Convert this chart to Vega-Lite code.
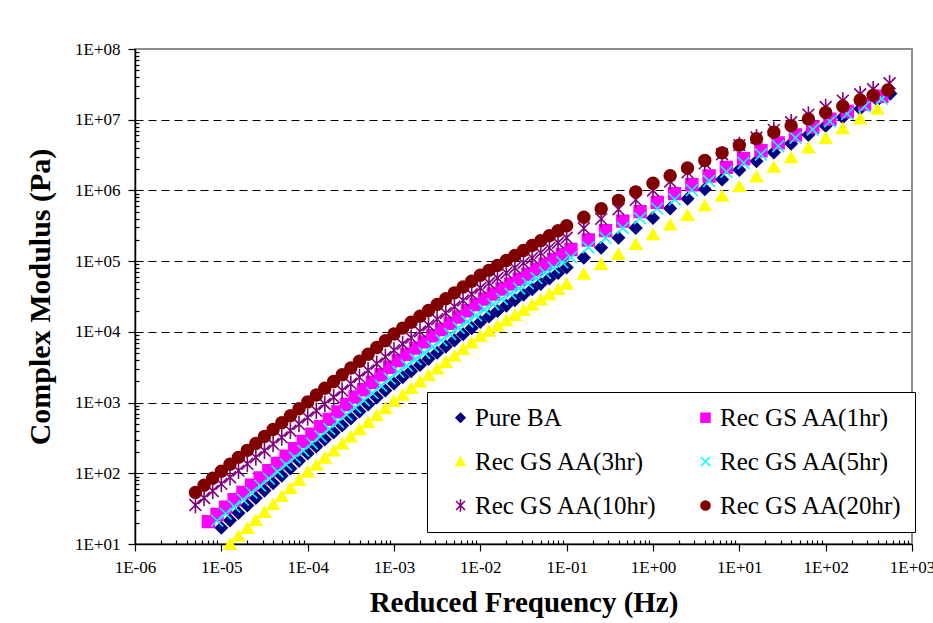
{
  "$schema": "https://vega.github.io/schema/vega-lite/v6.json",
  "width": 777,
  "height": 495,
  "autosize": "none",
  "padding": {"left": 135, "top": 49, "right": 21, "bottom": 79},
  "background": "white",
  "config": {
    "view": {"stroke": "#8c8c8c", "strokeWidth": 2},
    "font": "Liberation Serif"
  },
  "data": {
    "values": [
      {"series": "Pure BA", "freq": 1e-5, "modulus": 17.0},
      {"series": "Pure BA", "freq": 1.26e-5, "modulus": 21.6},
      {"series": "Pure BA", "freq": 1.58e-5, "modulus": 27.5},
      {"series": "Pure BA", "freq": 2e-5, "modulus": 35.1},
      {"series": "Pure BA", "freq": 2.51e-5, "modulus": 44.7},
      {"series": "Pure BA", "freq": 3.16e-5, "modulus": 56.9},
      {"series": "Pure BA", "freq": 3.98e-5, "modulus": 72.4},
      {"series": "Pure BA", "freq": 5.01e-5, "modulus": 92.3},
      {"series": "Pure BA", "freq": 6.31e-5, "modulus": 117},
      {"series": "Pure BA", "freq": 7.94e-5, "modulus": 150},
      {"series": "Pure BA", "freq": 1e-4, "modulus": 191},
      {"series": "Pure BA", "freq": 1.26e-4, "modulus": 240},
      {"series": "Pure BA", "freq": 1.58e-4, "modulus": 301},
      {"series": "Pure BA", "freq": 2e-4, "modulus": 378},
      {"series": "Pure BA", "freq": 2.51e-4, "modulus": 474},
      {"series": "Pure BA", "freq": 3.16e-4, "modulus": 596},
      {"series": "Pure BA", "freq": 3.98e-4, "modulus": 748},
      {"series": "Pure BA", "freq": 5.01e-4, "modulus": 940},
      {"series": "Pure BA", "freq": 6.31e-4, "modulus": 1180},
      {"series": "Pure BA", "freq": 7.94e-4, "modulus": 1480},
      {"series": "Pure BA", "freq": 1e-3, "modulus": 1860},
      {"series": "Pure BA", "freq": 1.26e-3, "modulus": 2280},
      {"series": "Pure BA", "freq": 1.58e-3, "modulus": 2780},
      {"series": "Pure BA", "freq": 2e-3, "modulus": 3400},
      {"series": "Pure BA", "freq": 2.51e-3, "modulus": 4150},
      {"series": "Pure BA", "freq": 3.16e-3, "modulus": 5070},
      {"series": "Pure BA", "freq": 3.98e-3, "modulus": 6190},
      {"series": "Pure BA", "freq": 5.01e-3, "modulus": 7570},
      {"series": "Pure BA", "freq": 6.31e-3, "modulus": 9250},
      {"series": "Pure BA", "freq": 7.94e-3, "modulus": 11300},
      {"series": "Pure BA", "freq": 0.01, "modulus": 13800},
      {"series": "Pure BA", "freq": 0.0126, "modulus": 16500},
      {"series": "Pure BA", "freq": 0.0158, "modulus": 19700},
      {"series": "Pure BA", "freq": 0.02, "modulus": 23500},
      {"series": "Pure BA", "freq": 0.0251, "modulus": 28100},
      {"series": "Pure BA", "freq": 0.0316, "modulus": 33500},
      {"series": "Pure BA", "freq": 0.0398, "modulus": 40000},
      {"series": "Pure BA", "freq": 0.0501, "modulus": 47700},
      {"series": "Pure BA", "freq": 0.0631, "modulus": 57000},
      {"series": "Pure BA", "freq": 0.0794, "modulus": 68100},
      {"series": "Pure BA", "freq": 0.1, "modulus": 81300},
      {"series": "Pure BA", "freq": 0.158, "modulus": 112000},
      {"series": "Pure BA", "freq": 0.251, "modulus": 155000},
      {"series": "Pure BA", "freq": 0.398, "modulus": 214000},
      {"series": "Pure BA", "freq": 0.631, "modulus": 295000},
      {"series": "Pure BA", "freq": 1, "modulus": 407000},
      {"series": "Pure BA", "freq": 1.58, "modulus": 557000},
      {"series": "Pure BA", "freq": 2.51, "modulus": 762000},
      {"series": "Pure BA", "freq": 3.98, "modulus": 1040000},
      {"series": "Pure BA", "freq": 6.31, "modulus": 1430000},
      {"series": "Pure BA", "freq": 10, "modulus": 1950000},
      {"series": "Pure BA", "freq": 15.8, "modulus": 2590000},
      {"series": "Pure BA", "freq": 25.1, "modulus": 3450000},
      {"series": "Pure BA", "freq": 39.8, "modulus": 4590000},
      {"series": "Pure BA", "freq": 63.1, "modulus": 6110000},
      {"series": "Pure BA", "freq": 100, "modulus": 8130000},
      {"series": "Pure BA", "freq": 158, "modulus": 10800000},
      {"series": "Pure BA", "freq": 251, "modulus": 14300000},
      {"series": "Pure BA", "freq": 398, "modulus": 19000000},
      {"series": "Pure BA", "freq": 562, "modulus": 23400000},

      {"series": "Rec GS AA(1hr)", "freq": 7.08e-6, "modulus": 20.7},
      {"series": "Rec GS AA(1hr)", "freq": 8.91e-6, "modulus": 26.2},
      {"series": "Rec GS AA(1hr)", "freq": 1.12e-5, "modulus": 33.1},
      {"series": "Rec GS AA(1hr)", "freq": 1.41e-5, "modulus": 42.2},
      {"series": "Rec GS AA(1hr)", "freq": 1.78e-5, "modulus": 53.5},
      {"series": "Rec GS AA(1hr)", "freq": 2.24e-5, "modulus": 67.8},
      {"series": "Rec GS AA(1hr)", "freq": 2.82e-5, "modulus": 85.9},
      {"series": "Rec GS AA(1hr)", "freq": 3.55e-5, "modulus": 109},
      {"series": "Rec GS AA(1hr)", "freq": 4.47e-5, "modulus": 138},
      {"series": "Rec GS AA(1hr)", "freq": 5.62e-5, "modulus": 175},
      {"series": "Rec GS AA(1hr)", "freq": 7.08e-5, "modulus": 222},
      {"series": "Rec GS AA(1hr)", "freq": 8.91e-5, "modulus": 281},
      {"series": "Rec GS AA(1hr)", "freq": 1.12e-4, "modulus": 357},
      {"series": "Rec GS AA(1hr)", "freq": 1.41e-4, "modulus": 455},
      {"series": "Rec GS AA(1hr)", "freq": 1.78e-4, "modulus": 579},
      {"series": "Rec GS AA(1hr)", "freq": 2.24e-4, "modulus": 738},
      {"series": "Rec GS AA(1hr)", "freq": 2.82e-4, "modulus": 940},
      {"series": "Rec GS AA(1hr)", "freq": 3.55e-4, "modulus": 1200},
      {"series": "Rec GS AA(1hr)", "freq": 4.47e-4, "modulus": 1520},
      {"series": "Rec GS AA(1hr)", "freq": 5.62e-4, "modulus": 1940},
      {"series": "Rec GS AA(1hr)", "freq": 7.08e-4, "modulus": 2470},
      {"series": "Rec GS AA(1hr)", "freq": 8.91e-4, "modulus": 3150},
      {"series": "Rec GS AA(1hr)", "freq": 1.12e-3, "modulus": 3930},
      {"series": "Rec GS AA(1hr)", "freq": 1.41e-3, "modulus": 4810},
      {"series": "Rec GS AA(1hr)", "freq": 1.78e-3, "modulus": 5890},
      {"series": "Rec GS AA(1hr)", "freq": 2.24e-3, "modulus": 7210},
      {"series": "Rec GS AA(1hr)", "freq": 2.82e-3, "modulus": 8830},
      {"series": "Rec GS AA(1hr)", "freq": 3.55e-3, "modulus": 10800},
      {"series": "Rec GS AA(1hr)", "freq": 4.47e-3, "modulus": 13200},
      {"series": "Rec GS AA(1hr)", "freq": 5.62e-3, "modulus": 16200},
      {"series": "Rec GS AA(1hr)", "freq": 7.08e-3, "modulus": 19900},
      {"series": "Rec GS AA(1hr)", "freq": 8.91e-3, "modulus": 24300},
      {"series": "Rec GS AA(1hr)", "freq": 0.0112, "modulus": 29200},
      {"series": "Rec GS AA(1hr)", "freq": 0.0141, "modulus": 34300},
      {"series": "Rec GS AA(1hr)", "freq": 0.0178, "modulus": 40300},
      {"series": "Rec GS AA(1hr)", "freq": 0.0224, "modulus": 47300},
      {"series": "Rec GS AA(1hr)", "freq": 0.0282, "modulus": 55600},
      {"series": "Rec GS AA(1hr)", "freq": 0.0355, "modulus": 65300},
      {"series": "Rec GS AA(1hr)", "freq": 0.0447, "modulus": 76700},
      {"series": "Rec GS AA(1hr)", "freq": 0.0562, "modulus": 90200},
      {"series": "Rec GS AA(1hr)", "freq": 0.0708, "modulus": 106000},
      {"series": "Rec GS AA(1hr)", "freq": 0.0891, "modulus": 124000},
      {"series": "Rec GS AA(1hr)", "freq": 0.112, "modulus": 146000},
      {"series": "Rec GS AA(1hr)", "freq": 0.178, "modulus": 199000},
      {"series": "Rec GS AA(1hr)", "freq": 0.282, "modulus": 270000},
      {"series": "Rec GS AA(1hr)", "freq": 0.447, "modulus": 368000},
      {"series": "Rec GS AA(1hr)", "freq": 0.708, "modulus": 501000},
      {"series": "Rec GS AA(1hr)", "freq": 1.12, "modulus": 678000},
      {"series": "Rec GS AA(1hr)", "freq": 1.78, "modulus": 902000},
      {"series": "Rec GS AA(1hr)", "freq": 2.82, "modulus": 1200000},
      {"series": "Rec GS AA(1hr)", "freq": 4.47, "modulus": 1600000},
      {"series": "Rec GS AA(1hr)", "freq": 7.08, "modulus": 2120000},
      {"series": "Rec GS AA(1hr)", "freq": 11.2, "modulus": 2810000},
      {"series": "Rec GS AA(1hr)", "freq": 17.8, "modulus": 3630000},
      {"series": "Rec GS AA(1hr)", "freq": 28.2, "modulus": 4700000},
      {"series": "Rec GS AA(1hr)", "freq": 44.7, "modulus": 6080000},
      {"series": "Rec GS AA(1hr)", "freq": 70.8, "modulus": 7870000},
      {"series": "Rec GS AA(1hr)", "freq": 112, "modulus": 10200000},
      {"series": "Rec GS AA(1hr)", "freq": 178, "modulus": 13100000},
      {"series": "Rec GS AA(1hr)", "freq": 282, "modulus": 16700000},
      {"series": "Rec GS AA(1hr)", "freq": 447, "modulus": 21500000},

      {"series": "Rec GS AA(3hr)", "freq": 1.26e-5, "modulus": 10.0},
      {"series": "Rec GS AA(3hr)", "freq": 1.58e-5, "modulus": 13.0},
      {"series": "Rec GS AA(3hr)", "freq": 2e-5, "modulus": 16.8},
      {"series": "Rec GS AA(3hr)", "freq": 2.51e-5, "modulus": 21.8},
      {"series": "Rec GS AA(3hr)", "freq": 3.16e-5, "modulus": 28.3},
      {"series": "Rec GS AA(3hr)", "freq": 3.98e-5, "modulus": 36.7},
      {"series": "Rec GS AA(3hr)", "freq": 5.01e-5, "modulus": 47.6},
      {"series": "Rec GS AA(3hr)", "freq": 6.31e-5, "modulus": 61.8},
      {"series": "Rec GS AA(3hr)", "freq": 7.94e-5, "modulus": 80.2},
      {"series": "Rec GS AA(3hr)", "freq": 1e-4, "modulus": 105},
      {"series": "Rec GS AA(3hr)", "freq": 1.26e-4, "modulus": 132},
      {"series": "Rec GS AA(3hr)", "freq": 1.58e-4, "modulus": 166},
      {"series": "Rec GS AA(3hr)", "freq": 2e-4, "modulus": 209},
      {"series": "Rec GS AA(3hr)", "freq": 2.51e-4, "modulus": 263},
      {"series": "Rec GS AA(3hr)", "freq": 3.16e-4, "modulus": 331},
      {"series": "Rec GS AA(3hr)", "freq": 3.98e-4, "modulus": 417},
      {"series": "Rec GS AA(3hr)", "freq": 5.01e-4, "modulus": 525},
      {"series": "Rec GS AA(3hr)", "freq": 6.31e-4, "modulus": 661},
      {"series": "Rec GS AA(3hr)", "freq": 7.94e-4, "modulus": 832},
      {"series": "Rec GS AA(3hr)", "freq": 1e-3, "modulus": 1050},
      {"series": "Rec GS AA(3hr)", "freq": 1.26e-3, "modulus": 1290},
      {"series": "Rec GS AA(3hr)", "freq": 1.58e-3, "modulus": 1600},
      {"series": "Rec GS AA(3hr)", "freq": 2e-3, "modulus": 1980},
      {"series": "Rec GS AA(3hr)", "freq": 2.51e-3, "modulus": 2440},
      {"series": "Rec GS AA(3hr)", "freq": 3.16e-3, "modulus": 3020},
      {"series": "Rec GS AA(3hr)", "freq": 3.98e-3, "modulus": 3730},
      {"series": "Rec GS AA(3hr)", "freq": 5.01e-3, "modulus": 4610},
      {"series": "Rec GS AA(3hr)", "freq": 6.31e-3, "modulus": 5700},
      {"series": "Rec GS AA(3hr)", "freq": 7.94e-3, "modulus": 7050},
      {"series": "Rec GS AA(3hr)", "freq": 0.01, "modulus": 8710},
      {"series": "Rec GS AA(3hr)", "freq": 0.0126, "modulus": 10300},
      {"series": "Rec GS AA(3hr)", "freq": 0.0158, "modulus": 12200},
      {"series": "Rec GS AA(3hr)", "freq": 0.02, "modulus": 14500},
      {"series": "Rec GS AA(3hr)", "freq": 0.0251, "modulus": 17200},
      {"series": "Rec GS AA(3hr)", "freq": 0.0316, "modulus": 20400},
      {"series": "Rec GS AA(3hr)", "freq": 0.0398, "modulus": 24200},
      {"series": "Rec GS AA(3hr)", "freq": 0.0501, "modulus": 28700},
      {"series": "Rec GS AA(3hr)", "freq": 0.0631, "modulus": 34000},
      {"series": "Rec GS AA(3hr)", "freq": 0.0794, "modulus": 40400},
      {"series": "Rec GS AA(3hr)", "freq": 0.1, "modulus": 47900},
      {"series": "Rec GS AA(3hr)", "freq": 0.158, "modulus": 66100},
      {"series": "Rec GS AA(3hr)", "freq": 0.251, "modulus": 91200},
      {"series": "Rec GS AA(3hr)", "freq": 0.398, "modulus": 126000},
      {"series": "Rec GS AA(3hr)", "freq": 0.631, "modulus": 174000},
      {"series": "Rec GS AA(3hr)", "freq": 1, "modulus": 240000},
      {"series": "Rec GS AA(3hr)", "freq": 1.58, "modulus": 328000},
      {"series": "Rec GS AA(3hr)", "freq": 2.51, "modulus": 449000},
      {"series": "Rec GS AA(3hr)", "freq": 3.98, "modulus": 614000},
      {"series": "Rec GS AA(3hr)", "freq": 6.31, "modulus": 839000},
      {"series": "Rec GS AA(3hr)", "freq": 10, "modulus": 1150000},
      {"series": "Rec GS AA(3hr)", "freq": 15.8, "modulus": 1570000},
      {"series": "Rec GS AA(3hr)", "freq": 25.1, "modulus": 2150000},
      {"series": "Rec GS AA(3hr)", "freq": 39.8, "modulus": 2940000},
      {"series": "Rec GS AA(3hr)", "freq": 63.1, "modulus": 4020000},
      {"series": "Rec GS AA(3hr)", "freq": 100, "modulus": 5500000},
      {"series": "Rec GS AA(3hr)", "freq": 158, "modulus": 7550000},
      {"series": "Rec GS AA(3hr)", "freq": 251, "modulus": 10400000},
      {"series": "Rec GS AA(3hr)", "freq": 398, "modulus": 14300000},

      {"series": "Rec GS AA(5hr)", "freq": 8.91e-6, "modulus": 21.4},
      {"series": "Rec GS AA(5hr)", "freq": 1.12e-5, "modulus": 26.9},
      {"series": "Rec GS AA(5hr)", "freq": 1.41e-5, "modulus": 33.8},
      {"series": "Rec GS AA(5hr)", "freq": 1.78e-5, "modulus": 42.4},
      {"series": "Rec GS AA(5hr)", "freq": 2.24e-5, "modulus": 53.3},
      {"series": "Rec GS AA(5hr)", "freq": 2.82e-5, "modulus": 66.9},
      {"series": "Rec GS AA(5hr)", "freq": 3.55e-5, "modulus": 84.0},
      {"series": "Rec GS AA(5hr)", "freq": 4.47e-5, "modulus": 106},
      {"series": "Rec GS AA(5hr)", "freq": 5.62e-5, "modulus": 133},
      {"series": "Rec GS AA(5hr)", "freq": 7.08e-5, "modulus": 167},
      {"series": "Rec GS AA(5hr)", "freq": 8.91e-5, "modulus": 209},
      {"series": "Rec GS AA(5hr)", "freq": 1.12e-4, "modulus": 264},
      {"series": "Rec GS AA(5hr)", "freq": 1.41e-4, "modulus": 333},
      {"series": "Rec GS AA(5hr)", "freq": 1.78e-4, "modulus": 422},
      {"series": "Rec GS AA(5hr)", "freq": 2.24e-4, "modulus": 533},
      {"series": "Rec GS AA(5hr)", "freq": 2.82e-4, "modulus": 675},
      {"series": "Rec GS AA(5hr)", "freq": 3.55e-4, "modulus": 853},
      {"series": "Rec GS AA(5hr)", "freq": 4.47e-4, "modulus": 1080},
      {"series": "Rec GS AA(5hr)", "freq": 5.62e-4, "modulus": 1360},
      {"series": "Rec GS AA(5hr)", "freq": 7.08e-4, "modulus": 1730},
      {"series": "Rec GS AA(5hr)", "freq": 8.91e-4, "modulus": 2180},
      {"series": "Rec GS AA(5hr)", "freq": 1.12e-3, "modulus": 2720},
      {"series": "Rec GS AA(5hr)", "freq": 1.41e-3, "modulus": 3340},
      {"series": "Rec GS AA(5hr)", "freq": 1.78e-3, "modulus": 4100},
      {"series": "Rec GS AA(5hr)", "freq": 2.24e-3, "modulus": 5030},
      {"series": "Rec GS AA(5hr)", "freq": 2.82e-3, "modulus": 6170},
      {"series": "Rec GS AA(5hr)", "freq": 3.55e-3, "modulus": 7580},
      {"series": "Rec GS AA(5hr)", "freq": 4.47e-3, "modulus": 9300},
      {"series": "Rec GS AA(5hr)", "freq": 5.62e-3, "modulus": 11400},
      {"series": "Rec GS AA(5hr)", "freq": 7.08e-3, "modulus": 14000},
      {"series": "Rec GS AA(5hr)", "freq": 8.91e-3, "modulus": 17200},
      {"series": "Rec GS AA(5hr)", "freq": 0.0112, "modulus": 20700},
      {"series": "Rec GS AA(5hr)", "freq": 0.0141, "modulus": 24600},
      {"series": "Rec GS AA(5hr)", "freq": 0.0178, "modulus": 29200},
      {"series": "Rec GS AA(5hr)", "freq": 0.0224, "modulus": 34600},
      {"series": "Rec GS AA(5hr)", "freq": 0.0282, "modulus": 41000},
      {"series": "Rec GS AA(5hr)", "freq": 0.0355, "modulus": 48600},
      {"series": "Rec GS AA(5hr)", "freq": 0.0447, "modulus": 57700},
      {"series": "Rec GS AA(5hr)", "freq": 0.0562, "modulus": 68400},
      {"series": "Rec GS AA(5hr)", "freq": 0.0708, "modulus": 81100},
      {"series": "Rec GS AA(5hr)", "freq": 0.0891, "modulus": 96200},
      {"series": "Rec GS AA(5hr)", "freq": 0.112, "modulus": 113000},
      {"series": "Rec GS AA(5hr)", "freq": 0.178, "modulus": 156000},
      {"series": "Rec GS AA(5hr)", "freq": 0.282, "modulus": 214000},
      {"series": "Rec GS AA(5hr)", "freq": 0.447, "modulus": 294000},
      {"series": "Rec GS AA(5hr)", "freq": 0.708, "modulus": 404000},
      {"series": "Rec GS AA(5hr)", "freq": 1.12, "modulus": 553000},
      {"series": "Rec GS AA(5hr)", "freq": 1.78, "modulus": 746000},
      {"series": "Rec GS AA(5hr)", "freq": 2.82, "modulus": 1010000},
      {"series": "Rec GS AA(5hr)", "freq": 4.47, "modulus": 1360000},
      {"series": "Rec GS AA(5hr)", "freq": 7.08, "modulus": 1830000},
      {"series": "Rec GS AA(5hr)", "freq": 11.2, "modulus": 2450000},
      {"series": "Rec GS AA(5hr)", "freq": 17.8, "modulus": 3220000},
      {"series": "Rec GS AA(5hr)", "freq": 28.2, "modulus": 4220000},
      {"series": "Rec GS AA(5hr)", "freq": 44.7, "modulus": 5540000},
      {"series": "Rec GS AA(5hr)", "freq": 70.8, "modulus": 7270000},
      {"series": "Rec GS AA(5hr)", "freq": 112, "modulus": 9470000},
      {"series": "Rec GS AA(5hr)", "freq": 178, "modulus": 12100000},
      {"series": "Rec GS AA(5hr)", "freq": 282, "modulus": 15400000},
      {"series": "Rec GS AA(5hr)", "freq": 447, "modulus": 19800000},

      {"series": "Rec GS AA(10hr)", "freq": 5.01e-6, "modulus": 35.5},
      {"series": "Rec GS AA(10hr)", "freq": 6.31e-6, "modulus": 44.7},
      {"series": "Rec GS AA(10hr)", "freq": 7.94e-6, "modulus": 56.2},
      {"series": "Rec GS AA(10hr)", "freq": 1e-5, "modulus": 70.8},
      {"series": "Rec GS AA(10hr)", "freq": 1.26e-5, "modulus": 87.9},
      {"series": "Rec GS AA(10hr)", "freq": 1.58e-5, "modulus": 109},
      {"series": "Rec GS AA(10hr)", "freq": 2e-5, "modulus": 136},
      {"series": "Rec GS AA(10hr)", "freq": 2.51e-5, "modulus": 168},
      {"series": "Rec GS AA(10hr)", "freq": 3.16e-5, "modulus": 209},
      {"series": "Rec GS AA(10hr)", "freq": 3.98e-5, "modulus": 259},
      {"series": "Rec GS AA(10hr)", "freq": 5.01e-5, "modulus": 322},
      {"series": "Rec GS AA(10hr)", "freq": 6.31e-5, "modulus": 400},
      {"series": "Rec GS AA(10hr)", "freq": 7.94e-5, "modulus": 497},
      {"series": "Rec GS AA(10hr)", "freq": 1e-4, "modulus": 617},
      {"series": "Rec GS AA(10hr)", "freq": 1.26e-4, "modulus": 767},
      {"series": "Rec GS AA(10hr)", "freq": 1.58e-4, "modulus": 955},
      {"series": "Rec GS AA(10hr)", "freq": 2e-4, "modulus": 1190},
      {"series": "Rec GS AA(10hr)", "freq": 2.51e-4, "modulus": 1480},
      {"series": "Rec GS AA(10hr)", "freq": 3.16e-4, "modulus": 1840},
      {"series": "Rec GS AA(10hr)", "freq": 3.98e-4, "modulus": 2290},
      {"series": "Rec GS AA(10hr)", "freq": 5.01e-4, "modulus": 2850},
      {"series": "Rec GS AA(10hr)", "freq": 6.31e-4, "modulus": 3550},
      {"series": "Rec GS AA(10hr)", "freq": 7.94e-4, "modulus": 4420},
      {"series": "Rec GS AA(10hr)", "freq": 1e-3, "modulus": 5500},
      {"series": "Rec GS AA(10hr)", "freq": 1.26e-3, "modulus": 6730},
      {"series": "Rec GS AA(10hr)", "freq": 1.58e-3, "modulus": 8240},
      {"series": "Rec GS AA(10hr)", "freq": 2e-3, "modulus": 10100},
      {"series": "Rec GS AA(10hr)", "freq": 2.51e-3, "modulus": 12400},
      {"series": "Rec GS AA(10hr)", "freq": 3.16e-3, "modulus": 15100},
      {"series": "Rec GS AA(10hr)", "freq": 3.98e-3, "modulus": 18500},
      {"series": "Rec GS AA(10hr)", "freq": 5.01e-3, "modulus": 22700},
      {"series": "Rec GS AA(10hr)", "freq": 6.31e-3, "modulus": 27800},
      {"series": "Rec GS AA(10hr)", "freq": 7.94e-3, "modulus": 34000},
      {"series": "Rec GS AA(10hr)", "freq": 0.01, "modulus": 41700},
      {"series": "Rec GS AA(10hr)", "freq": 0.0126, "modulus": 49100},
      {"series": "Rec GS AA(10hr)", "freq": 0.0158, "modulus": 57800},
      {"series": "Rec GS AA(10hr)", "freq": 0.02, "modulus": 68100},
      {"series": "Rec GS AA(10hr)", "freq": 0.0251, "modulus": 80200},
      {"series": "Rec GS AA(10hr)", "freq": 0.0316, "modulus": 94400},
      {"series": "Rec GS AA(10hr)", "freq": 0.0398, "modulus": 111000},
      {"series": "Rec GS AA(10hr)", "freq": 0.0501, "modulus": 131000},
      {"series": "Rec GS AA(10hr)", "freq": 0.0631, "modulus": 154000},
      {"series": "Rec GS AA(10hr)", "freq": 0.0794, "modulus": 182000},
      {"series": "Rec GS AA(10hr)", "freq": 0.1, "modulus": 214000},
      {"series": "Rec GS AA(10hr)", "freq": 0.158, "modulus": 291000},
      {"series": "Rec GS AA(10hr)", "freq": 0.251, "modulus": 396000},
      {"series": "Rec GS AA(10hr)", "freq": 0.398, "modulus": 540000},
      {"series": "Rec GS AA(10hr)", "freq": 0.631, "modulus": 735000},
      {"series": "Rec GS AA(10hr)", "freq": 1, "modulus": 1000000},
      {"series": "Rec GS AA(10hr)", "freq": 1.58, "modulus": 1340000},
      {"series": "Rec GS AA(10hr)", "freq": 2.51, "modulus": 1800000},
      {"series": "Rec GS AA(10hr)", "freq": 3.98, "modulus": 2420000},
      {"series": "Rec GS AA(10hr)", "freq": 6.31, "modulus": 3250000},
      {"series": "Rec GS AA(10hr)", "freq": 10, "modulus": 4370000},
      {"series": "Rec GS AA(10hr)", "freq": 15.8, "modulus": 5600000},
      {"series": "Rec GS AA(10hr)", "freq": 25.1, "modulus": 7180000},
      {"series": "Rec GS AA(10hr)", "freq": 39.8, "modulus": 9200000},
      {"series": "Rec GS AA(10hr)", "freq": 63.1, "modulus": 11800000},
      {"series": "Rec GS AA(10hr)", "freq": 100, "modulus": 15100000},
      {"series": "Rec GS AA(10hr)", "freq": 158, "modulus": 18600000},
      {"series": "Rec GS AA(10hr)", "freq": 251, "modulus": 22900000},
      {"series": "Rec GS AA(10hr)", "freq": 355, "modulus": 26900000},
      {"series": "Rec GS AA(10hr)", "freq": 550, "modulus": 32700000},

      {"series": "Rec GS AA(20hr)", "freq": 5.01e-6, "modulus": 53.7},
      {"series": "Rec GS AA(20hr)", "freq": 6.31e-6, "modulus": 67.6},
      {"series": "Rec GS AA(20hr)", "freq": 7.94e-6, "modulus": 85.1},
      {"series": "Rec GS AA(20hr)", "freq": 1e-5, "modulus": 107},
      {"series": "Rec GS AA(20hr)", "freq": 1.26e-5, "modulus": 134},
      {"series": "Rec GS AA(20hr)", "freq": 1.58e-5, "modulus": 168},
      {"series": "Rec GS AA(20hr)", "freq": 2e-5, "modulus": 211},
      {"series": "Rec GS AA(20hr)", "freq": 2.51e-5, "modulus": 264},
      {"series": "Rec GS AA(20hr)", "freq": 3.16e-5, "modulus": 331},
      {"series": "Rec GS AA(20hr)", "freq": 3.98e-5, "modulus": 415},
      {"series": "Rec GS AA(20hr)", "freq": 5.01e-5, "modulus": 520},
      {"series": "Rec GS AA(20hr)", "freq": 6.31e-5, "modulus": 652},
      {"series": "Rec GS AA(20hr)", "freq": 7.94e-5, "modulus": 817},
      {"series": "Rec GS AA(20hr)", "freq": 1e-4, "modulus": 1020},
      {"series": "Rec GS AA(20hr)", "freq": 1.26e-4, "modulus": 1280},
      {"series": "Rec GS AA(20hr)", "freq": 1.58e-4, "modulus": 1590},
      {"series": "Rec GS AA(20hr)", "freq": 2e-4, "modulus": 1990},
      {"series": "Rec GS AA(20hr)", "freq": 2.51e-4, "modulus": 2480},
      {"series": "Rec GS AA(20hr)", "freq": 3.16e-4, "modulus": 3090},
      {"series": "Rec GS AA(20hr)", "freq": 3.98e-4, "modulus": 3850},
      {"series": "Rec GS AA(20hr)", "freq": 5.01e-4, "modulus": 4810},
      {"series": "Rec GS AA(20hr)", "freq": 6.31e-4, "modulus": 6000},
      {"series": "Rec GS AA(20hr)", "freq": 7.94e-4, "modulus": 7480},
      {"series": "Rec GS AA(20hr)", "freq": 1e-3, "modulus": 9330},
      {"series": "Rec GS AA(20hr)", "freq": 1.26e-3, "modulus": 11300},
      {"series": "Rec GS AA(20hr)", "freq": 1.58e-3, "modulus": 13700},
      {"series": "Rec GS AA(20hr)", "freq": 2e-3, "modulus": 16600},
      {"series": "Rec GS AA(20hr)", "freq": 2.51e-3, "modulus": 20000},
      {"series": "Rec GS AA(20hr)", "freq": 3.16e-3, "modulus": 24300},
      {"series": "Rec GS AA(20hr)", "freq": 3.98e-3, "modulus": 29400},
      {"series": "Rec GS AA(20hr)", "freq": 5.01e-3, "modulus": 35600},
      {"series": "Rec GS AA(20hr)", "freq": 6.31e-3, "modulus": 43100},
      {"series": "Rec GS AA(20hr)", "freq": 7.94e-3, "modulus": 52100},
      {"series": "Rec GS AA(20hr)", "freq": 0.01, "modulus": 63100},
      {"series": "Rec GS AA(20hr)", "freq": 0.0126, "modulus": 74100},
      {"series": "Rec GS AA(20hr)", "freq": 0.0158, "modulus": 87100},
      {"series": "Rec GS AA(20hr)", "freq": 0.02, "modulus": 102000},
      {"series": "Rec GS AA(20hr)", "freq": 0.0251, "modulus": 120000},
      {"series": "Rec GS AA(20hr)", "freq": 0.0316, "modulus": 141000},
      {"series": "Rec GS AA(20hr)", "freq": 0.0398, "modulus": 166000},
      {"series": "Rec GS AA(20hr)", "freq": 0.0501, "modulus": 195000},
      {"series": "Rec GS AA(20hr)", "freq": 0.0631, "modulus": 229000},
      {"series": "Rec GS AA(20hr)", "freq": 0.0794, "modulus": 269000},
      {"series": "Rec GS AA(20hr)", "freq": 0.1, "modulus": 316000},
      {"series": "Rec GS AA(20hr)", "freq": 0.158, "modulus": 417000},
      {"series": "Rec GS AA(20hr)", "freq": 0.251, "modulus": 550000},
      {"series": "Rec GS AA(20hr)", "freq": 0.398, "modulus": 724000},
      {"series": "Rec GS AA(20hr)", "freq": 0.631, "modulus": 955000},
      {"series": "Rec GS AA(20hr)", "freq": 1, "modulus": 1260000},
      {"series": "Rec GS AA(20hr)", "freq": 1.58, "modulus": 1610000},
      {"series": "Rec GS AA(20hr)", "freq": 2.51, "modulus": 2070000},
      {"series": "Rec GS AA(20hr)", "freq": 3.98, "modulus": 2650000},
      {"series": "Rec GS AA(20hr)", "freq": 6.31, "modulus": 3400000},
      {"series": "Rec GS AA(20hr)", "freq": 10, "modulus": 4370000},
      {"series": "Rec GS AA(20hr)", "freq": 15.8, "modulus": 5400000},
      {"series": "Rec GS AA(20hr)", "freq": 25.1, "modulus": 6670000},
      {"series": "Rec GS AA(20hr)", "freq": 39.8, "modulus": 8240000},
      {"series": "Rec GS AA(20hr)", "freq": 63.1, "modulus": 10200000},
      {"series": "Rec GS AA(20hr)", "freq": 100, "modulus": 12600000},
      {"series": "Rec GS AA(20hr)", "freq": 158, "modulus": 15500000},
      {"series": "Rec GS AA(20hr)", "freq": 251, "modulus": 19000000},
      {"series": "Rec GS AA(20hr)", "freq": 355, "modulus": 22100000},
      {"series": "Rec GS AA(20hr)", "freq": 525, "modulus": 26300000}
    ]
  },
  "mark": {"type": "point", "filled": true, "size": 140, "strokeWidth": 1.6, "opacity": 1},
  "encoding": {
    "x": {
      "field": "freq",
      "type": "quantitative",
      "scale": {"type": "log", "domain": [1e-6, 1000], "nice": false},
      "axis": {
        "title": "Reduced Frequency (Hz)",
        "titleFont": "Liberation Serif",
        "titleFontSize": 29,
        "titleFontWeight": "bold",
        "titleColor": "black",
        "titlePadding": 13,
        "tickCount": 60,
        "labelExpr": "abs(log(datum.value)/LN10 - round(log(datum.value)/LN10)) < 0.01 ? '1E' + (round(log(datum.value)/LN10) < 0 ? '-' : '+') + (abs(round(log(datum.value)/LN10)) < 10 ? '0' : '') + abs(round(log(datum.value)/LN10)) : ''",
        "labelFont": "Liberation Serif",
        "labelFontSize": 17,
        "labelColor": "black",
        "labelPadding": 8,
        "labelOverlap": false,
        "labelFlush": false,
        "labelBound": false,
        "tickColor": "black",
        "tickWidth": 1.2,
        "tickSize": {"condition": {"test": "abs(log(datum.value)/LN10 - round(log(datum.value)/LN10)) < 0.01", "value": 7}, "value": -4},
        "grid": false,
        "domainColor": "black",
        "domainWidth": 1.5
      }
    },
    "y": {
      "field": "modulus",
      "type": "quantitative",
      "scale": {"type": "log", "domain": [10, 100000000], "nice": false},
      "axis": {
        "title": "Complex Modulus (Pa)",
        "titleFont": "Liberation Serif",
        "titleFontSize": 30,
        "titleFontWeight": "bold",
        "titleColor": "black",
        "titlePadding": 19,
        "tickCount": 60,
        "labelExpr": "abs(log(datum.value)/LN10 - round(log(datum.value)/LN10)) < 0.01 ? '1E' + (round(log(datum.value)/LN10) < 0 ? '-' : '+') + (abs(round(log(datum.value)/LN10)) < 10 ? '0' : '') + abs(round(log(datum.value)/LN10)) : ''",
        "labelFont": "Liberation Serif",
        "labelFontSize": 17,
        "labelColor": "black",
        "labelPadding": 8,
        "labelOverlap": false,
        "labelBound": false,
        "tickColor": "black",
        "tickWidth": 1.2,
        "tickSize": {"condition": {"test": "abs(log(datum.value)/LN10 - round(log(datum.value)/LN10)) < 0.01", "value": 7}, "value": -4},
        "grid": true,
        "gridColor": "black",
        "gridDash": [8, 5],
        "gridWidth": 1,
        "gridOpacity": {"condition": {"test": "abs(log(datum.value)/LN10 - round(log(datum.value)/LN10)) < 0.01 && datum.value > 11 && datum.value < 90000000", "value": 1}, "value": 0},
        "domainColor": "black",
        "domainWidth": 1.5
      }
    },
    "fill": {
      "field": "series",
      "type": "nominal",
      "scale": {
        "domain": ["Pure BA", "Rec GS AA(1hr)", "Rec GS AA(3hr)", "Rec GS AA(5hr)", "Rec GS AA(10hr)", "Rec GS AA(20hr)"],
        "range": ["#000080", "#ff00ff", "#ffff00", "#00ffff", "#800080", "#800000"]
      },
      "legend": {
        "title": null, "orient": "none", "legendX": 292, "legendY": 343, "columns": 2, "direction": "horizontal",
        "fillColor": "white", "strokeColor": "black", "padding": 13,
        "labelFont": "Liberation Serif", "labelFontSize": 25, "labelColor": "black", "labelLimit": 400,
        "labelOffset": 2, "symbolOffset": 8, "symbolSize": 80, "symbolStrokeWidth": 1.6,
        "rowPadding": 18, "columnPadding": 28
      }
    },
    "stroke": {
      "field": "series",
      "type": "nominal",
      "scale": {
        "domain": ["Pure BA", "Rec GS AA(1hr)", "Rec GS AA(3hr)", "Rec GS AA(5hr)", "Rec GS AA(10hr)", "Rec GS AA(20hr)"],
        "range": ["#000080", "#ff00ff", "#ffff00", "#00ffff", "#800080", "#800000"]
      },
      "legend": {
        "title": null, "orient": "none", "legendX": 292, "legendY": 343, "columns": 2, "direction": "horizontal",
        "fillColor": "white", "strokeColor": "black", "padding": 13,
        "labelFont": "Liberation Serif", "labelFontSize": 25, "labelColor": "black", "labelLimit": 400,
        "labelOffset": 2, "symbolOffset": 8, "symbolSize": 80, "symbolStrokeWidth": 1.6,
        "rowPadding": 18, "columnPadding": 28
      }
    },
    "shape": {
      "field": "series",
      "type": "nominal",
      "scale": {
        "domain": ["Pure BA", "Rec GS AA(1hr)", "Rec GS AA(3hr)", "Rec GS AA(5hr)", "Rec GS AA(10hr)", "Rec GS AA(20hr)"],
        "range": ["diamond", "square", "triangle-up", "M-1,-1L1,1M-1,1L1,-1", "M-1,-1L1,1M-1,1L1,-1M0,-1.4L0,1.4", "circle"]
      },
      "legend": {
        "title": null, "orient": "none", "legendX": 292, "legendY": 343, "columns": 2, "direction": "horizontal",
        "fillColor": "white", "strokeColor": "black", "padding": 13,
        "labelFont": "Liberation Serif", "labelFontSize": 25, "labelColor": "black", "labelLimit": 400,
        "labelOffset": 2, "symbolOffset": 8, "symbolSize": 80, "symbolStrokeWidth": 1.6,
        "rowPadding": 18, "columnPadding": 28
      }
    }
  }
}
